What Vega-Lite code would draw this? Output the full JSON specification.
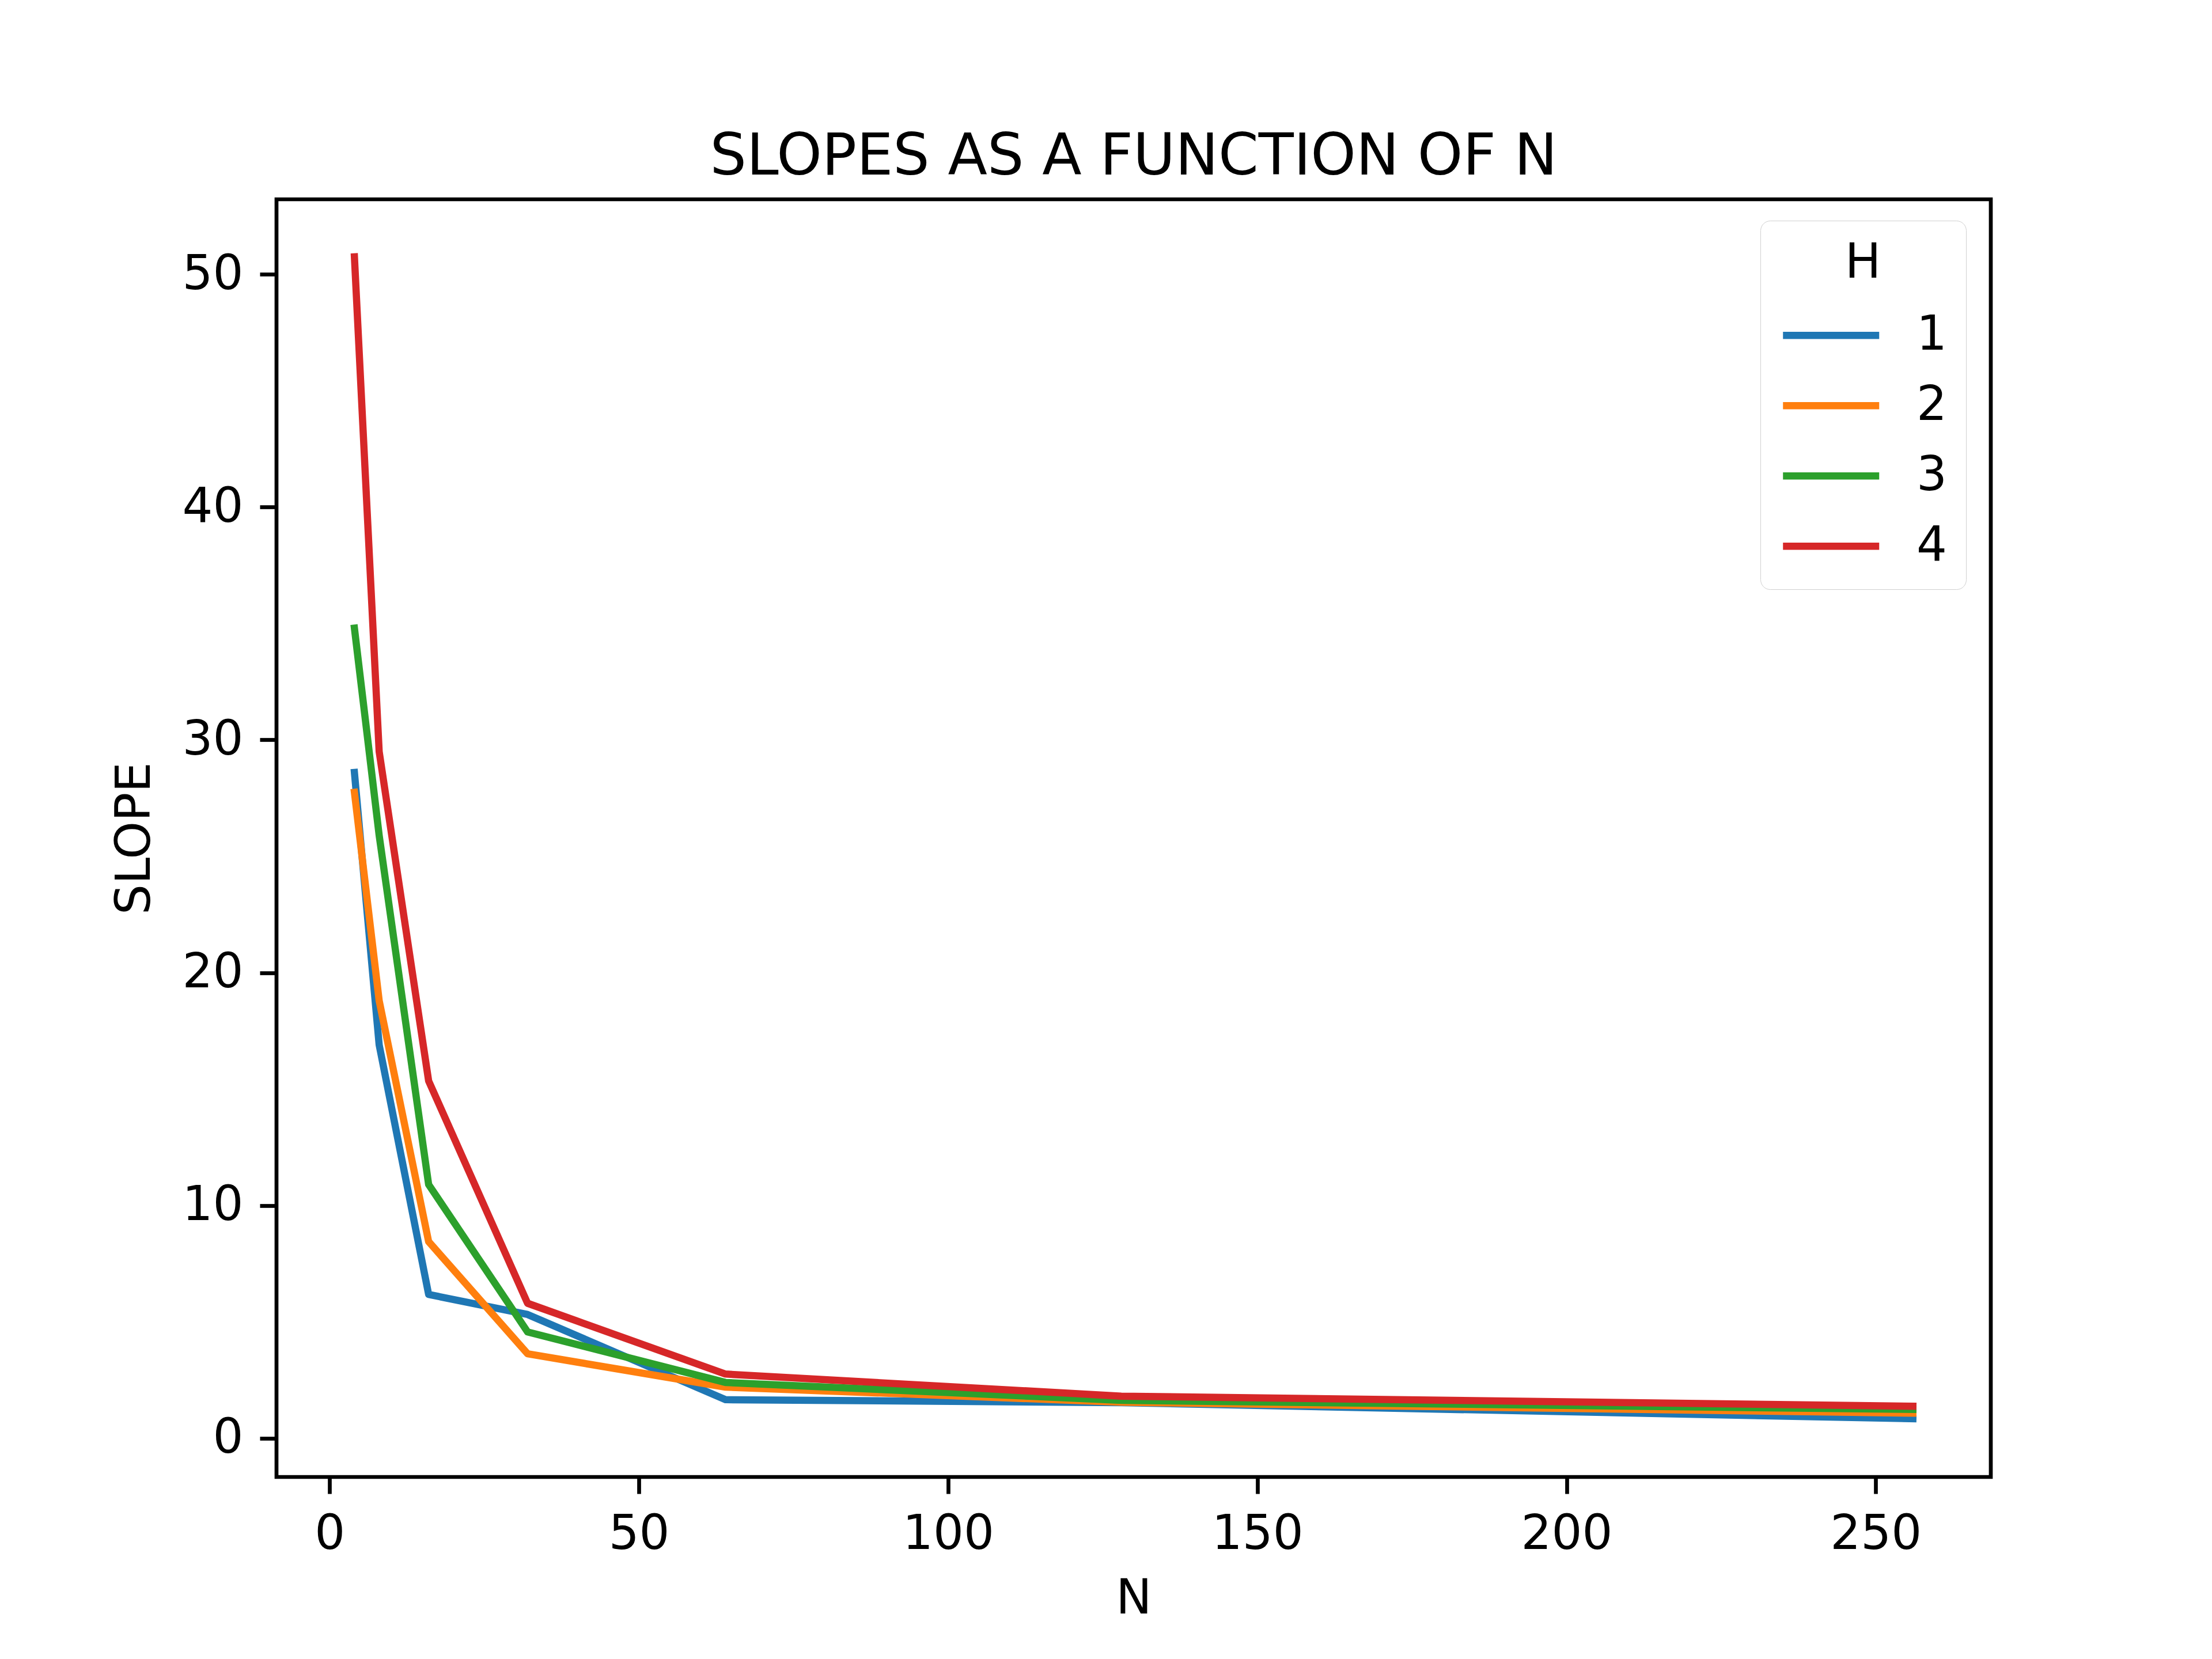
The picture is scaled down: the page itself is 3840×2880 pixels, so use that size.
{
  "$schema": "https://vega.github.io/schema/vega-lite/v6.json",
  "autosize": {"type": "none"},
  "padding": {"left": 480, "top": 346, "right": 384, "bottom": 316},
  "width": 2976,
  "height": 2218,
  "background": "white",
  "title": {
    "text": "SLOPES AS A FUNCTION OF N",
    "font": "DejaVu Sans",
    "fontSize": 100,
    "fontWeight": "normal",
    "color": "black",
    "anchor": "middle",
    "baseline": "alphabetic",
    "offset": -57
  },
  "config": {
    "view": {"stroke": "black", "strokeWidth": 6.7},
    "font": "DejaVu Sans",
    "axis": {
      "domain": false,
      "grid": false,
      "ticks": true,
      "tickColor": "black",
      "tickWidth": 6.7,
      "tickSize": 29,
      "labelPadding": 29,
      "labelFont": "DejaVu Sans",
      "labelFontSize": 83.3,
      "labelColor": "black",
      "titleFont": "DejaVu Sans",
      "titleFontSize": 83.3,
      "titleFontWeight": "normal",
      "titleColor": "black"
    }
  },
  "data": {
    "values": [
      {"N": 4, "H": "1", "SLOPE": 28.6},
      {"N": 8, "H": "1", "SLOPE": 16.9},
      {"N": 16, "H": "1", "SLOPE": 6.18},
      {"N": 32, "H": "1", "SLOPE": 5.32},
      {"N": 64, "H": "1", "SLOPE": 1.66},
      {"N": 128, "H": "1", "SLOPE": 1.53},
      {"N": 256, "H": "1", "SLOPE": 0.84},
      {"N": 4, "H": "2", "SLOPE": 27.75},
      {"N": 8, "H": "2", "SLOPE": 18.8},
      {"N": 16, "H": "2", "SLOPE": 8.45},
      {"N": 32, "H": "2", "SLOPE": 3.63},
      {"N": 64, "H": "2", "SLOPE": 2.2},
      {"N": 128, "H": "2", "SLOPE": 1.55},
      {"N": 256, "H": "2", "SLOPE": 1.08},
      {"N": 4, "H": "3", "SLOPE": 34.8},
      {"N": 8, "H": "3", "SLOPE": 25.9},
      {"N": 16, "H": "3", "SLOPE": 10.9},
      {"N": 32, "H": "3", "SLOPE": 4.57},
      {"N": 64, "H": "3", "SLOPE": 2.4},
      {"N": 128, "H": "3", "SLOPE": 1.63},
      {"N": 256, "H": "3", "SLOPE": 1.24},
      {"N": 4, "H": "4", "SLOPE": 50.75},
      {"N": 8, "H": "4", "SLOPE": 29.5},
      {"N": 16, "H": "4", "SLOPE": 15.35},
      {"N": 32, "H": "4", "SLOPE": 5.8},
      {"N": 64, "H": "4", "SLOPE": 2.76},
      {"N": 128, "H": "4", "SLOPE": 1.81},
      {"N": 256, "H": "4", "SLOPE": 1.38}
    ]
  },
  "mark": {"type": "line", "strokeWidth": 12.5, "strokeCap": "square", "strokeJoin": "round", "clip": true},
  "encoding": {
    "x": {
      "field": "N",
      "type": "quantitative",
      "scale": {"domain": [-8.6, 268.6], "nice": false, "zero": false},
      "axis": {"values": [0, 50, 100, 150, 200, 250], "title": "N", "titlePadding": 30}
    },
    "y": {
      "field": "SLOPE",
      "type": "quantitative",
      "scale": {"domain": [-1.66, 53.22], "nice": false, "zero": false},
      "axis": {"values": [0, 10, 20, 30, 40, 50], "title": "SLOPE", "titlePadding": 40}
    },
    "color": {
      "field": "H",
      "type": "nominal",
      "scale": {"domain": ["1", "2", "3", "4"], "range": ["#1f77b4", "#ff7f0e", "#2ca02c", "#d62728"]},
      "legend": {
        "title": "H",
        "orient": "none",
        "legendX": 2576,
        "legendY": 37,
        "titleFont": "DejaVu Sans",
        "titleFontSize": 83.3,
        "titleFontWeight": "normal",
        "titleColor": "black",
        "titleAnchor": "middle",
        "titleAlign": "center",
        "titlePadding": 35,
        "labelFont": "DejaVu Sans",
        "labelFontSize": 83.3,
        "labelColor": "black",
        "labelOffset": 142,
        "symbolType": "M-1,0H3",
        "symbolSize": 6972,
        "symbolStrokeWidth": 12.5,
        "symbolFillColor": "transparent",
        "rowPadding": 32,
        "padding": 33,
        "strokeColor": "#d0d0d0",
        "fillColor": "white",
        "cornerRadius": 17
      }
    }
  }
}
